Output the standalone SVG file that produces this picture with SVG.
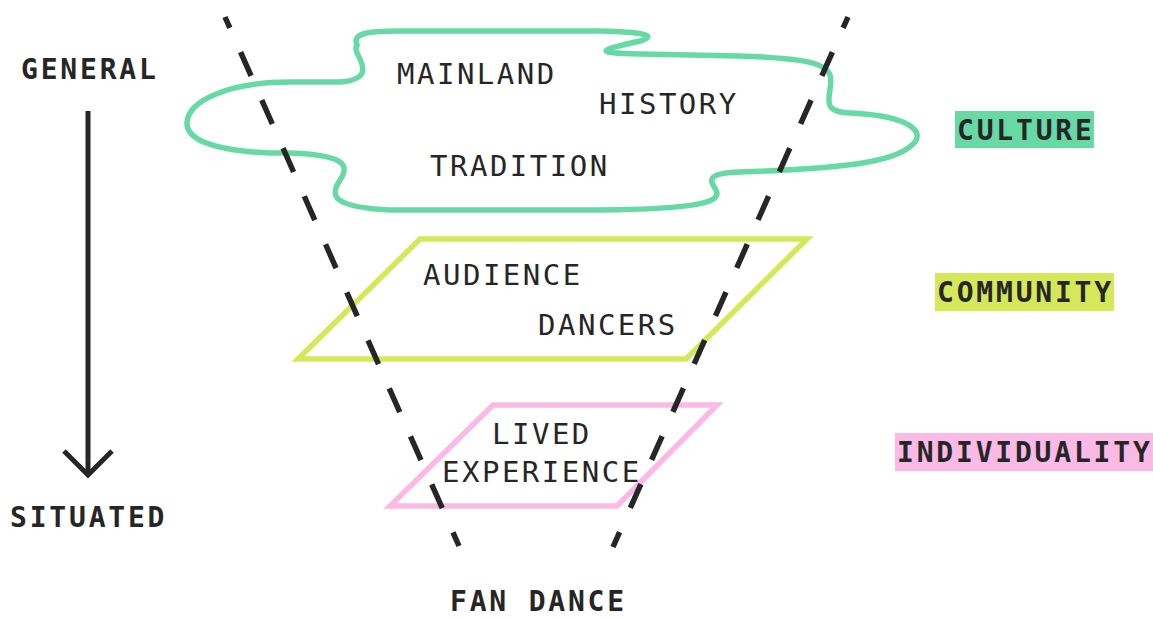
<svg xmlns="http://www.w3.org/2000/svg" width="1153" height="619" viewBox="0 0 1153 619">
<style>
.reg{font-family:"DejaVu Sans Mono","Liberation Mono",monospace;font-size:29px;letter-spacing:2.5px;fill:#262626}
.bold{font-family:"DejaVu Sans Mono","Liberation Mono",monospace;font-size:28px;font-weight:bold;letter-spacing:2.8px;fill:#262626}
.shape{fill:none;stroke-width:5.5;stroke-linejoin:miter}
.dash{stroke:#262626;stroke-width:5.5;stroke-dasharray:26 26.5;stroke-dashoffset:14;fill:none}
</style>
<rect width="1153" height="619" fill="#ffffff"/>
<g id="culture">
<path class="shape" stroke="#66d9a5" d="M 357,45 C 352,33 368,31 400,31 L 600,31 C 640,32 660,35 640,41 C 600,50 590,53 640,54 L 740,56 C 800,58 825,62 830,75 C 835,92 815,112 850,113 C 900,115 925,128 915,142 C 900,160 860,168 740,172 C 705,173 710,181 716,190 C 722,202 700,209 600,210 L 390,210 C 330,207 330,195 340,180 C 350,165 345,155 290,153 L 270,153 C 205,150 186,137 187,122 C 189,100 230,82 290,82 L 340,82 C 368,80 365,68 358,55 C 355,49 356,46 357,45 Z"/>
<text class="reg" x="397" y="84">MAINLAND</text>
<text class="reg" x="599" y="114">HISTORY</text>
<text class="reg" x="430" y="176">TRADITION</text>
</g>
<g id="community">
<polygon class="shape" stroke="#d4e85a" points="420,239 807,239 686,359 298,359"/>
<text class="reg" x="423" y="285">AUDIENCE</text>
<text class="reg" x="538" y="335">DANCERS</text>
</g>
<g id="individual">
<polygon class="shape" stroke="#fbb9e6" points="493,405 717,405 617,506 390,506"/>
<text class="reg" x="492" y="444">LIVED</text>
<text class="reg" x="442" y="482">EXPERIENCE</text>
</g>
<g id="label-culture">
<rect x="955" y="111" width="139" height="37" fill="#66d9a5"/>
<text class="bold" x="957" y="140">CULTURE</text>
</g>
<g id="label-community">
<rect x="935" y="273" width="179" height="38" fill="#d4e85a"/>
<text class="bold" x="937" y="302">COMMUNITY</text>
</g>
<g id="label-individuality">
<rect x="895" y="433" width="258" height="38" fill="#fbb9e6"/>
<text class="bold" x="897" y="462">INDIVIDUALITY</text>
</g>
<g id="label-general"><text class="bold" x="21" y="79">GENERAL</text></g>
<g id="label-situated"><text class="bold" x="10" y="527">SITUATED</text></g>
<g id="label-fandance"><text class="bold" x="450" y="611">FAN DANCE</text></g>
<g id="connectors">
<line class="dash" x1="225" y1="17" x2="459" y2="546"/>
<line class="dash" x1="848" y1="17" x2="613" y2="547"/>
<line x1="88" y1="111" x2="88" y2="473" stroke="#262626" stroke-width="5"/>
<polyline points="64,451 88,475 112,451" fill="none" stroke="#262626" stroke-width="5"/>
</g>
</svg>
